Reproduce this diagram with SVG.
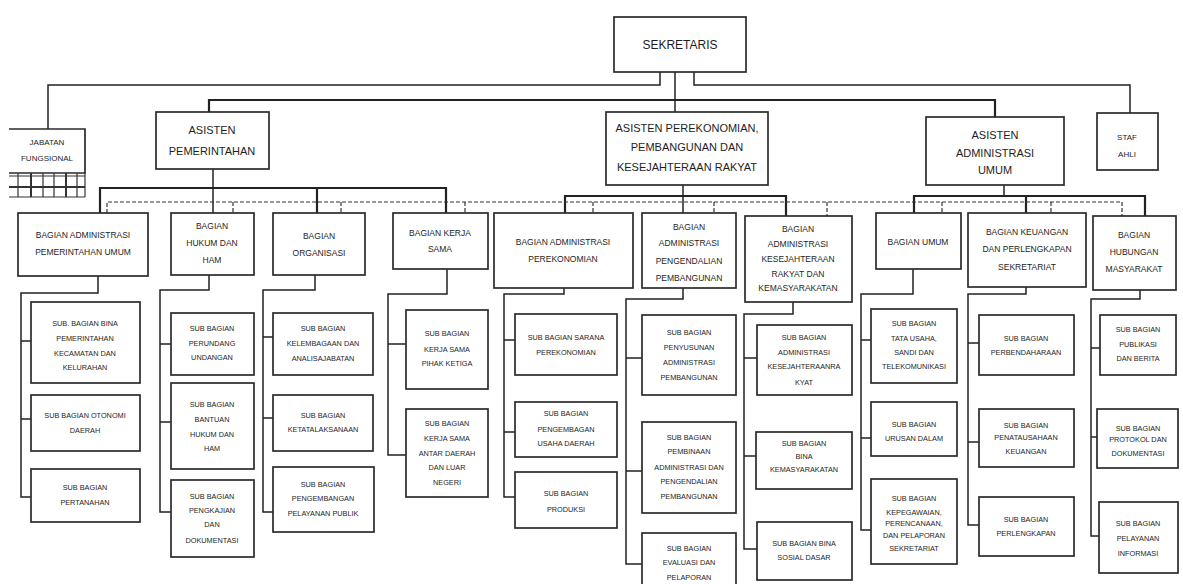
<svg xmlns="http://www.w3.org/2000/svg" width="1183" height="584" viewBox="0 0 1183 584">
<style>
.bx{fill:#fff;stroke:#2b2b2b;stroke-width:1.7}
.t{font-family:"Liberation Sans",Arial,sans-serif;fill:#1e1e1e;text-anchor:middle}
.s{font-size:7.3px}
.b{font-size:8.5px}
.a{font-size:11px}
.ln{fill:none;stroke:#222;stroke-width:1.5}
.th{stroke-width:2.2}
.ds{fill:none;stroke:#333;stroke-width:1.2;stroke-dasharray:4 2}
.g{fill:none;stroke:#333;stroke-width:1.2}
</style>
<rect width="1183" height="584" fill="#fff"/>
<g id="connectors">
<path class="ln" d="M660,72V85H48V129"/>
<path class="ln" d="M675,72V112"/>
<path class="ln" d="M694,72V85H1130V113"/>
<path class="ln th" d="M209,112V100H995V117"/>
<path class="ln" d="M213,169V213"/>
<path class="ln th" d="M100,213V188H446V213M317,188V213"/>
<path class="ln" d="M683,185V213"/>
<path class="ln th" d="M565,213V196H786V216"/>
<path class="ln" d="M1004,185V196"/>
<path class="ln th" d="M914,213V196H1145V216M1026,196V213"/>
<path class="ds" d="M107,213V202H1122V216M233,202V213M341,202V213M465,202V213M593,202V213M714,202V213M827,202V216M942,202V213M1051,202V213"/>
<path class="ln" d="M98,276V293H21V497H31M21,341H31M21,419H31"/>
<path class="ln" d="M209,275V290H160V512H171M160,344H171M160,422H171"/>
<path class="ln" d="M315,275V290H263V512H273M263,337H273M263,418H273"/>
<path class="ln" d="M447,269V294H388V455H406M388,344H406"/>
<path class="ln" d="M564,288V294H504V497H515M504,340H515M504,432H515"/>
<path class="ln" d="M683,288V299H626V564H642M626,358H642M626,471H642"/>
<path class="ln" d="M793,302V314H744V549H757M744,358H757M744,456H756"/>
<path class="ln" d="M913,269V294H861V530H871M861,340H871M861,438H871"/>
<path class="ln" d="M1026,287V294H968V525H979M968,343H979M968,442H979"/>
<path class="ln" d="M1140,290V299H1091V536H1099M1091,348H1100M1091,437H1097"/>
</g>

<g id="sekretaris"><rect class="bx" x="614" y="17" width="132" height="55"/><text class="t a" x="680" y="49" style="font-size:12px">SEKRETARIS</text></g>

<g id="jabatan-fungsional">
<path class="bx" d="M9,129H85V173H9"/>
<text class="t" x="47" y="145" style="font-size:8px">JABATAN</text>
<text class="t" x="47" y="161" style="font-size:8px">FUNGSIONAL</text>
<path class="g" d="M9,176H85M9,187H85M9,197H85M85,173V197M18,173V197M31,173V197M43,173V197M54,173V197M66,173V197M77,173V197"/>
<path class="g" style="stroke-width:2" d="M31,173V197M66,173V197M9,187H85"/>
</g>

<g id="asisten-pemerintahan"><rect class="bx" x="156" y="112" width="113" height="57"/>
<text class="t a" x="212" y="134">ASISTEN</text><text class="t a" x="212" y="155">PEMERINTAHAN</text></g>

<g id="asisten-perekonomian"><rect class="bx" x="606" y="112" width="162" height="73"/>
<text class="t a" x="687" y="132">ASISTEN PEREKONOMIAN,</text><text class="t a" x="687" y="151">PEMBANGUNAN DAN</text><text class="t a" x="687" y="171">KESEJAHTERAAN RAKYAT</text></g>

<g id="asisten-administrasi-umum"><rect class="bx" x="926" y="117" width="138" height="68"/>
<text class="t a" x="995" y="139">ASISTEN</text><text class="t a" x="995" y="157">ADMINISTRASI</text><text class="t a" x="995" y="174">UMUM</text></g>

<g id="staf-ahli"><rect class="bx" x="1097" y="113" width="61" height="57"/>
<text class="t" x="1127" y="140" style="font-size:8px">STAF</text><text class="t" x="1127" y="157" style="font-size:8px">AHLI</text></g>

<g id="bagian-adm-pemerintahan"><rect class="bx" x="18" y="213" width="130" height="63"/>
<text class="t b" x="83" y="238">BAGIAN ADMINISTRASI</text><text class="t b" x="83" y="255">PEMERINTAHAN UMUM</text></g>
<g id="bagian-hukum"><rect class="bx" x="171" y="213" width="83" height="62"/>
<text class="t b" x="212" y="229">BAGIAN</text><text class="t b" x="212" y="246">HUKUM DAN</text><text class="t b" x="212" y="263">HAM</text></g>
<g id="bagian-organisasi"><rect class="bx" x="273" y="213" width="92" height="62"/>
<text class="t b" x="319" y="239">BAGIAN</text><text class="t b" x="319" y="256">ORGANISASI</text></g>
<g id="bagian-kerja-sama"><rect class="bx" x="393" y="213" width="95" height="56"/>
<text class="t b" x="440" y="236">BAGIAN KERJA</text><text class="t b" x="440" y="252">SAMA</text></g>
<g id="bagian-perekonomian"><rect class="bx" x="494" y="213" width="139" height="75"/>
<text class="t b" x="563" y="245">BAGIAN  ADMINISTRASI</text><text class="t b" x="563" y="262">PEREKONOMIAN</text></g>
<g id="bagian-pengendalian"><rect class="bx" x="642" y="213" width="94" height="75"/>
<text class="t b" x="689" y="230">BAGIAN</text><text class="t b" x="689" y="246">ADMINISTRASI</text><text class="t b" x="689" y="264">PENGENDALIAN</text><text class="t b" x="689" y="281">PEMBANGUNAN</text></g>
<g id="bagian-kesejahteraan"><rect class="bx" x="745" y="216" width="107" height="86"/>
<text class="t b" x="798" y="232">BAGIAN</text><text class="t b" x="798" y="247">ADMINISTRASI</text><text class="t b" x="798" y="262">KESEJAHTERAAN</text><text class="t b" x="798" y="277">RAKYAT DAN</text><text class="t b" x="798" y="291">KEMASYARAKATAN</text></g>
<g id="bagian-umum"><rect class="bx" x="876" y="213" width="85" height="56"/>
<text class="t b" x="918" y="245">BAGIAN UMUM</text></g>
<g id="bagian-keuangan"><rect class="bx" x="968" y="213" width="118" height="74"/>
<text class="t b" x="1027" y="235">BAGIAN KEUANGAN</text><text class="t b" x="1027" y="252">DAN PERLENGKAPAN</text><text class="t b" x="1027" y="270">SEKRETARIAT</text></g>
<g id="bagian-humas"><rect class="bx" x="1093" y="216" width="83" height="74"/>
<text class="t b" x="1134" y="238">BAGIAN</text><text class="t b" x="1134" y="255">HUBUNGAN</text><text class="t b" x="1134" y="272">MASYARAKAT</text></g>

<g id="sub-bina-pemerintahan"><rect class="bx" x="31" y="302" width="109" height="81"/>
<text class="t s" x="85" y="326">SUB. BAGIAN BINA</text><text class="t s" x="85" y="341">PEMERINTAHAN</text><text class="t s" x="85" y="356">KECAMATAN DAN</text><text class="t s" x="85" y="370">KELURAHAN</text></g>
<g id="sub-otonomi"><rect class="bx" x="31" y="395" width="109" height="56"/>
<text class="t s" x="85" y="418">SUB BAGIAN OTONOMI</text><text class="t s" x="85" y="433">DAERAH</text></g>
<g id="sub-pertanahan"><rect class="bx" x="31" y="469" width="109" height="53"/>
<text class="t s" x="85" y="490">SUB BAGIAN</text><text class="t s" x="85" y="505">PERTANAHAN</text></g>

<g id="sub-perundang"><rect class="bx" x="171" y="313" width="83" height="62"/>
<text class="t s" x="212" y="331">SUB BAGIAN</text><text class="t s" x="212" y="346">PERUNDANG</text><text class="t s" x="212" y="360">UNDANGAN</text></g>
<g id="sub-bantuan-hukum"><rect class="bx" x="171" y="383" width="83" height="86"/>
<text class="t s" x="212" y="407">SUB BAGIAN</text><text class="t s" x="212" y="422">BANTUAN</text><text class="t s" x="212" y="437">HUKUM DAN</text><text class="t s" x="212" y="451">HAM</text></g>
<g id="sub-pengkajian"><rect class="bx" x="171" y="480" width="83" height="77"/>
<text class="t s" x="212" y="499">SUB BAGIAN</text><text class="t s" x="212" y="513">PENGKAJIAN</text><text class="t s" x="212" y="527">DAN</text><text class="t s" x="212" y="543">DOKUMENTASI</text></g>

<g id="sub-kelembagaan"><rect class="bx" x="273" y="313" width="100" height="62"/>
<text class="t s" x="323" y="331">SUB BAGIAN</text><text class="t s" x="323" y="346">KELEMBAGAAN DAN</text><text class="t s" x="323" y="361">ANALISAJABATAN</text></g>
<g id="sub-ketatalaksanaan"><rect class="bx" x="273" y="395" width="100" height="56"/>
<text class="t s" x="323" y="418">SUB BAGIAN</text><text class="t s" x="323" y="432">KETATALAKSANAAN</text></g>
<g id="sub-pelayanan-publik"><rect class="bx" x="273" y="467" width="101" height="65"/>
<text class="t s" x="323" y="487">SUB BAGIAN</text><text class="t s" x="323" y="501">PENGEMBANGAN</text><text class="t s" x="323" y="516">PELAYANAN PUBLIK</text></g>

<g id="sub-pihak-ketiga"><rect class="bx" x="406" y="310" width="82" height="79"/>
<text class="t s" x="447" y="336">SUB BAGIAN</text><text class="t s" x="447" y="352">KERJA SAMA</text><text class="t s" x="447" y="366">PIHAK KETIGA</text></g>
<g id="sub-antar-daerah"><rect class="bx" x="406" y="409" width="82" height="88"/>
<text class="t s" x="447" y="426">SUB BAGIAN</text><text class="t s" x="447" y="441">KERJA SAMA</text><text class="t s" x="447" y="456">ANTAR DAERAH</text><text class="t s" x="447" y="470">DAN LUAR</text><text class="t s" x="447" y="485">NEGERI</text></g>

<g id="sub-sarana"><rect class="bx" x="515" y="314" width="102" height="61"/>
<text class="t s" x="566" y="340">SUB BAGIAN SARANA</text><text class="t s" x="566" y="355">PEREKONOMIAN</text></g>
<g id="sub-usaha-daerah"><rect class="bx" x="515" y="402" width="102" height="55"/>
<text class="t s" x="566" y="416">SUB BAGIAN</text><text class="t s" x="566" y="432">PENGEMBAGAN</text><text class="t s" x="566" y="446">USAHA DAERAH</text></g>
<g id="sub-produksi"><rect class="bx" x="515" y="472" width="102" height="56"/>
<text class="t s" x="566" y="496">SUB BAGIAN</text><text class="t s" x="566" y="512">PRODUKSI</text></g>

<g id="sub-penyusunan"><rect class="bx" x="642" y="315" width="94" height="80"/>
<text class="t s" x="689" y="335">SUB BAGIAN</text><text class="t s" x="689" y="350">PENYUSUNAN</text><text class="t s" x="689" y="365">ADMINISTRASI</text><text class="t s" x="689" y="380">PEMBANGUNAN</text></g>
<g id="sub-pembinaan"><rect class="bx" x="642" y="422" width="94" height="91"/>
<text class="t s" x="689" y="440">SUB BAGIAN</text><text class="t s" x="689" y="454">PEMBINAAN</text><text class="t s" x="689" y="470">ADMINISTRASI  DAN</text><text class="t s" x="689" y="484">PENGENDALIAN</text><text class="t s" x="689" y="499">PEMBANGUNAN</text></g>
<g id="sub-evaluasi"><rect class="bx" x="642" y="533" width="94" height="60"/>
<text class="t s" x="689" y="551">SUB BAGIAN</text><text class="t s" x="689" y="565">EVALUASI DAN</text><text class="t s" x="689" y="580">PELAPORAN</text></g>

<g id="sub-adm-kesra"><rect class="bx" x="757" y="325" width="95" height="70"/>
<text class="t s" x="804" y="340">SUB BAGIAN</text><text class="t s" x="804" y="355">ADMINISTRASI</text><text class="t s" x="804" y="369">KESEJAHTERAANRA</text><text class="t s" x="804" y="385">KYAT</text></g>
<g id="sub-kemasyarakatan"><rect class="bx" x="756" y="432" width="96" height="57"/>
<text class="t s" x="804" y="446">SUB BAGIAN</text><text class="t s" x="804" y="459">BINA</text><text class="t s" x="804" y="472">KEMASYARAKATAN</text></g>
<g id="sub-sosial-dasar"><rect class="bx" x="757" y="522" width="95" height="58"/>
<text class="t s" x="804" y="546">SUB BAGIAN BINA</text><text class="t s" x="804" y="560">SOSIAL DASAR</text></g>

<g id="sub-tata-usaha"><rect class="bx" x="871" y="309" width="86" height="74"/>
<text class="t s" x="914" y="326">SUB BAGIAN</text><text class="t s" x="914" y="341">TATA USAHA,</text><text class="t s" x="914" y="355">SANDI DAN</text><text class="t s" x="914" y="369">TELEKOMUNIKASI</text></g>
<g id="sub-urusan-dalam"><rect class="bx" x="871" y="402" width="86" height="54"/>
<text class="t s" x="914" y="427">SUB BAGIAN</text><text class="t s" x="914" y="441">URUSAN DALAM</text></g>
<g id="sub-kepegawaian"><rect class="bx" x="871" y="479" width="86" height="85"/>
<text class="t s" x="914" y="501">SUB BAGIAN</text><text class="t s" x="914" y="515">KEPEGAWAIAN,</text><text class="t s" x="914" y="526">PERENCANAAN,</text><text class="t s" x="914" y="538">DAN PELAPORAN</text><text class="t s" x="914" y="551">SEKRETARIAT</text></g>

<g id="sub-perbendaharaan"><rect class="bx" x="979" y="315" width="95" height="60"/>
<text class="t s" x="1026" y="341">SUB BAGIAN</text><text class="t s" x="1026" y="355">PERBENDAHARAAN</text></g>
<g id="sub-penatausahaan"><rect class="bx" x="979" y="409" width="95" height="58"/>
<text class="t s" x="1026" y="428">SUB BAGIAN</text><text class="t s" x="1026" y="440">PENATAUSAHAAN</text><text class="t s" x="1026" y="454">KEUANGAN</text></g>
<g id="sub-perlengkapan"><rect class="bx" x="979" y="497" width="95" height="59"/>
<text class="t s" x="1026" y="522">SUB BAGIAN</text><text class="t s" x="1026" y="536">PERLENGKAPAN</text></g>

<g id="sub-publikasi"><rect class="bx" x="1100" y="315" width="76" height="60"/>
<text class="t s" x="1138" y="332">SUB BAGIAN</text><text class="t s" x="1138" y="347">PUBLIKASI</text><text class="t s" x="1138" y="361">DAN BERITA</text></g>
<g id="sub-protokol"><rect class="bx" x="1097" y="409" width="81" height="59"/>
<text class="t s" x="1138" y="431">SUB BAGIAN</text><text class="t s" x="1138" y="442">PROTOKOL DAN</text><text class="t s" x="1138" y="456">DOKUMENTASI</text></g>
<g id="sub-pelayanan-informasi"><rect class="bx" x="1099" y="502" width="79" height="71"/>
<text class="t s" x="1138" y="526">SUB BAGIAN</text><text class="t s" x="1138" y="541">PELAYANAN</text><text class="t s" x="1138" y="556">INFORMASI</text></g>
</svg>
